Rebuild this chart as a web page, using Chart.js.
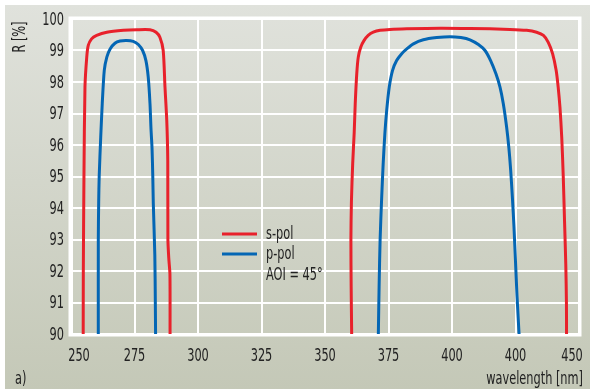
<!DOCTYPE html>
<html>
<head>
<meta charset="utf-8">
<script src="https://cdn.jsdelivr.net/npm/chart.js@4"></script>
<style>
  html, body { margin: 0; padding: 0; background: #ffffff; }
  #wrap { width: 590px; height: 389px; position: relative; }
</style>
</head>
<body>
<div id="wrap"><canvas id="grafico"></canvas></div>
<script>
// reflectance curves, [wavelength nm, R %]
const sPolBanda1 = [
  [254.8, 90], [254.85, 92], [255.1, 95.0], [255.5, 97.84], [256.2, 98.79], [256.8, 99.16],
  [258.1, 99.37], [260.1, 99.48], [264.1, 99.58], [270.6, 99.64], [275.9, 99.66], [281.1, 99.66],
  [283.5, 99.58], [285.0, 99.42], [286.3, 99.0], [287.0, 97.84], [287.7, 96.78], [288.1, 95.5],
  [288.15, 93.0], [288.5, 92.4], [288.95, 91.9], [289.0, 90]
];
const pPolBanda1 = [
  [260.75, 90], [260.75, 93], [260.9, 94.2], [261.1, 95.0], [261.7, 96.25], [262.3, 97.31],
  [263.1, 98.37], [264.1, 98.79], [265.4, 99.05], [267.3, 99.23], [269.3, 99.3], [271.9, 99.32],
  [274.5, 99.29], [276.5, 99.19], [278.2, 99.0], [279.5, 98.68], [280.4, 98.16], [281.1, 97.31],
  [281.5, 96.5], [281.9, 95.9], [282.2, 95.0], [282.4, 94.15], [283.0, 92.5], [283.2, 91], [283.3, 90]
];
const sPolBanda2 = [
  [360.5, 90], [360.3, 91.5], [360.2, 93], [360.4, 94.2], [360.9, 95.4], [361.5, 96.4],
  [361.9, 97.31], [362.5, 98.26], [363.1, 98.79], [364.1, 99.11], [365.4, 99.32],
  [367.0, 99.48], [369.0, 99.58], [371.7, 99.64], [375.6, 99.67], [382.2, 99.69], [395.3, 99.71],
  [407.1, 99.7], [422.8, 99.67], [429.4, 99.64], [433.3, 99.58], [436.0, 99.48], [437.9, 99.26],
  [439.6, 98.9], [441.0, 98.37], [441.8, 97.84], [442.5, 97.2], [443.2, 96.25], [443.8, 95.0],
  [444.3, 93.6], [444.8, 92.2], [445.05, 91], [445.1, 90]
];
const pPolBanda2 = [
  [371, 90], [371.3, 91.5], [371.7, 93], [372.3, 94.3], [372.9, 95.4], [373.6, 96.4],
  [374.3, 97.11], [375.3, 97.84], [376.6, 98.37], [378.2, 98.68], [380.2, 98.9], [382.2, 99.05],
  [384.8, 99.21], [388.7, 99.34], [394.0, 99.41], [399.2, 99.44], [403.5, 99.41], [407.1, 99.34],
  [410.4, 99.19], [413.0, 99.0], [415.2, 98.68], [417.3, 98.26], [418.9, 97.84], [420.2, 97.31],
  [421.5, 96.57], [422.4, 95.9], [423.1, 95.2], [423.8, 94.3], [424.4, 93.4], [425.0, 92.3],
  [425.6, 91.2], [426.4, 90]
];

const valoresX = [250, 275, 300, 325, 350, 375, 400, 425, 450];
const etiquetasX = ['250', '275', '300', '325', '350', '375', '400', '400', '450'];
const etiquetasY = ['90', '91', '92', '93', '94', '95', '96', '97', '98', '99', '100'];
const leyenda = ['s-pol', 'p-pol', 'AOI = 45°'];

const ROJO = '#e8212b';
const AZUL = '#0466b4';
const TEXTO = '#222222';
const FUENTE = "'DejaVu Sans Condensed', 'Liberation Sans Narrow', sans-serif";
const ANGOSTO = 0.7;   // narrow the type horizontally

const aPuntos = arr => arr.map(([x, y]) => ({ x, y }));
// join the two bands of each polarisation with a gap
const serie = (b1, b2) => aPuntos(b1).concat([{ x: 320, y: null }], aPuntos(b2));

// condensed text helper
const texto = (ctx, t, x, y, align) => {
  ctx.save();
  ctx.translate(x, y);
  ctx.scale(ANGOSTO, 1);
  ctx.textAlign = align;
  ctx.fillText(t, 0, 0);
  ctx.restore();
};

const fondo = {
  id: 'fondo',
  beforeDraw(chart) {
    const { ctx } = chart;
    ctx.save();
    const g = ctx.createLinearGradient(0, 5, 0, 389);
    g.addColorStop(0, '#e0e2dc');
    g.addColorStop(1, '#c4c8b7');
    ctx.fillStyle = g;
    ctx.fillRect(5, 5, 585, 384);
    ctx.restore();
  },
  beforeDatasetsDraw(chart) {
    const { ctx, chartArea: a } = chart;
    ctx.save();
    ctx.strokeStyle = '#ffffff';
    ctx.lineWidth = 3;
    ctx.strokeRect(a.left - 1, a.top - 1, a.right - a.left + 2, a.bottom - a.top + 2);
    ctx.restore();
  },
  afterDraw(chart) {
    const { ctx, scales } = chart;
    ctx.save();
    ctx.fillStyle = TEXTO;
    ctx.font = '18px ' + FUENTE;
    ctx.textBaseline = 'middle';

    // tick labels, placed from the axis scales
    etiquetasY.forEach(t => texto(ctx, t, 64, scales.y.getPixelForValue(Number(t)) + 1, 'right'));
    valoresX.forEach((v, i) => {
      let px = scales.x.getPixelForValue(v);
      if (i === 0) px += 8;
      if (i === valoresX.length - 1) px -= 7;
      texto(ctx, etiquetasX[i], px, 356, 'center');
    });

    // legend inside the plot
    ctx.lineWidth = 3;
    ctx.strokeStyle = ROJO;
    ctx.beginPath(); ctx.moveTo(222, 234); ctx.lineTo(257, 234); ctx.stroke();
    ctx.strokeStyle = AZUL;
    ctx.beginPath(); ctx.moveTo(222, 254); ctx.lineTo(257, 254); ctx.stroke();
    leyenda.forEach((t, i) => texto(ctx, t, 266, 234 + i * 20.5, 'left'));

    // axis titles
    texto(ctx, 'wavelength [nm]', 583, 379, 'right');
    texto(ctx, 'a)', 15, 379, 'left');
    ctx.translate(20, 37);
    ctx.rotate(-Math.PI / 2);
    texto(ctx, 'R [%]', 0, 0, 'center');
    ctx.restore();
  }
};

new Chart(document.getElementById('grafico'), {
  type: 'line',
  data: {
    datasets: [
      {
        label: 's-pol',
        data: serie(sPolBanda1, sPolBanda2),
        borderColor: ROJO,
        borderWidth: 3,
        pointRadius: 0,
        tension: 0.25,
        spanGaps: false
      },
      {
        label: 'p-pol',
        data: serie(pPolBanda1, pPolBanda2),
        borderColor: AZUL,
        borderWidth: 3,
        pointRadius: 0,
        tension: 0.25,
        spanGaps: false
      }
    ]
  },
  options: {
    responsive: true,
    maintainAspectRatio: false,
    animation: false,
    layout: { padding: { top: 19, right: 11, left: 0, bottom: 0 } },
    plugins: { legend: { display: false }, tooltip: { enabled: false } },
    scales: {
      x: {
        type: 'linear',
        min: 250,
        max: 450,
        afterBuildTicks: s => { s.ticks = valoresX.map(v => ({ value: v })); },
        afterFit: s => { s.height = 55; },
        grid: { color: '#ffffff', lineWidth: 2, drawTicks: false },
        border: { color: '#ffffff', width: 3 },
        ticks: { display: false }
      },
      y: {
        min: 90,
        max: 100,
        afterBuildTicks: s => { s.ticks = etiquetasY.map(v => ({ value: Number(v) })); },
        afterFit: s => { s.width = 71; },
        grid: { color: '#ffffff', lineWidth: 2, drawTicks: false },
        border: { color: '#ffffff', width: 3 },
        ticks: { display: false }
      }
    }
  },
  plugins: [fondo]
});
</script>
</body>
</html>
